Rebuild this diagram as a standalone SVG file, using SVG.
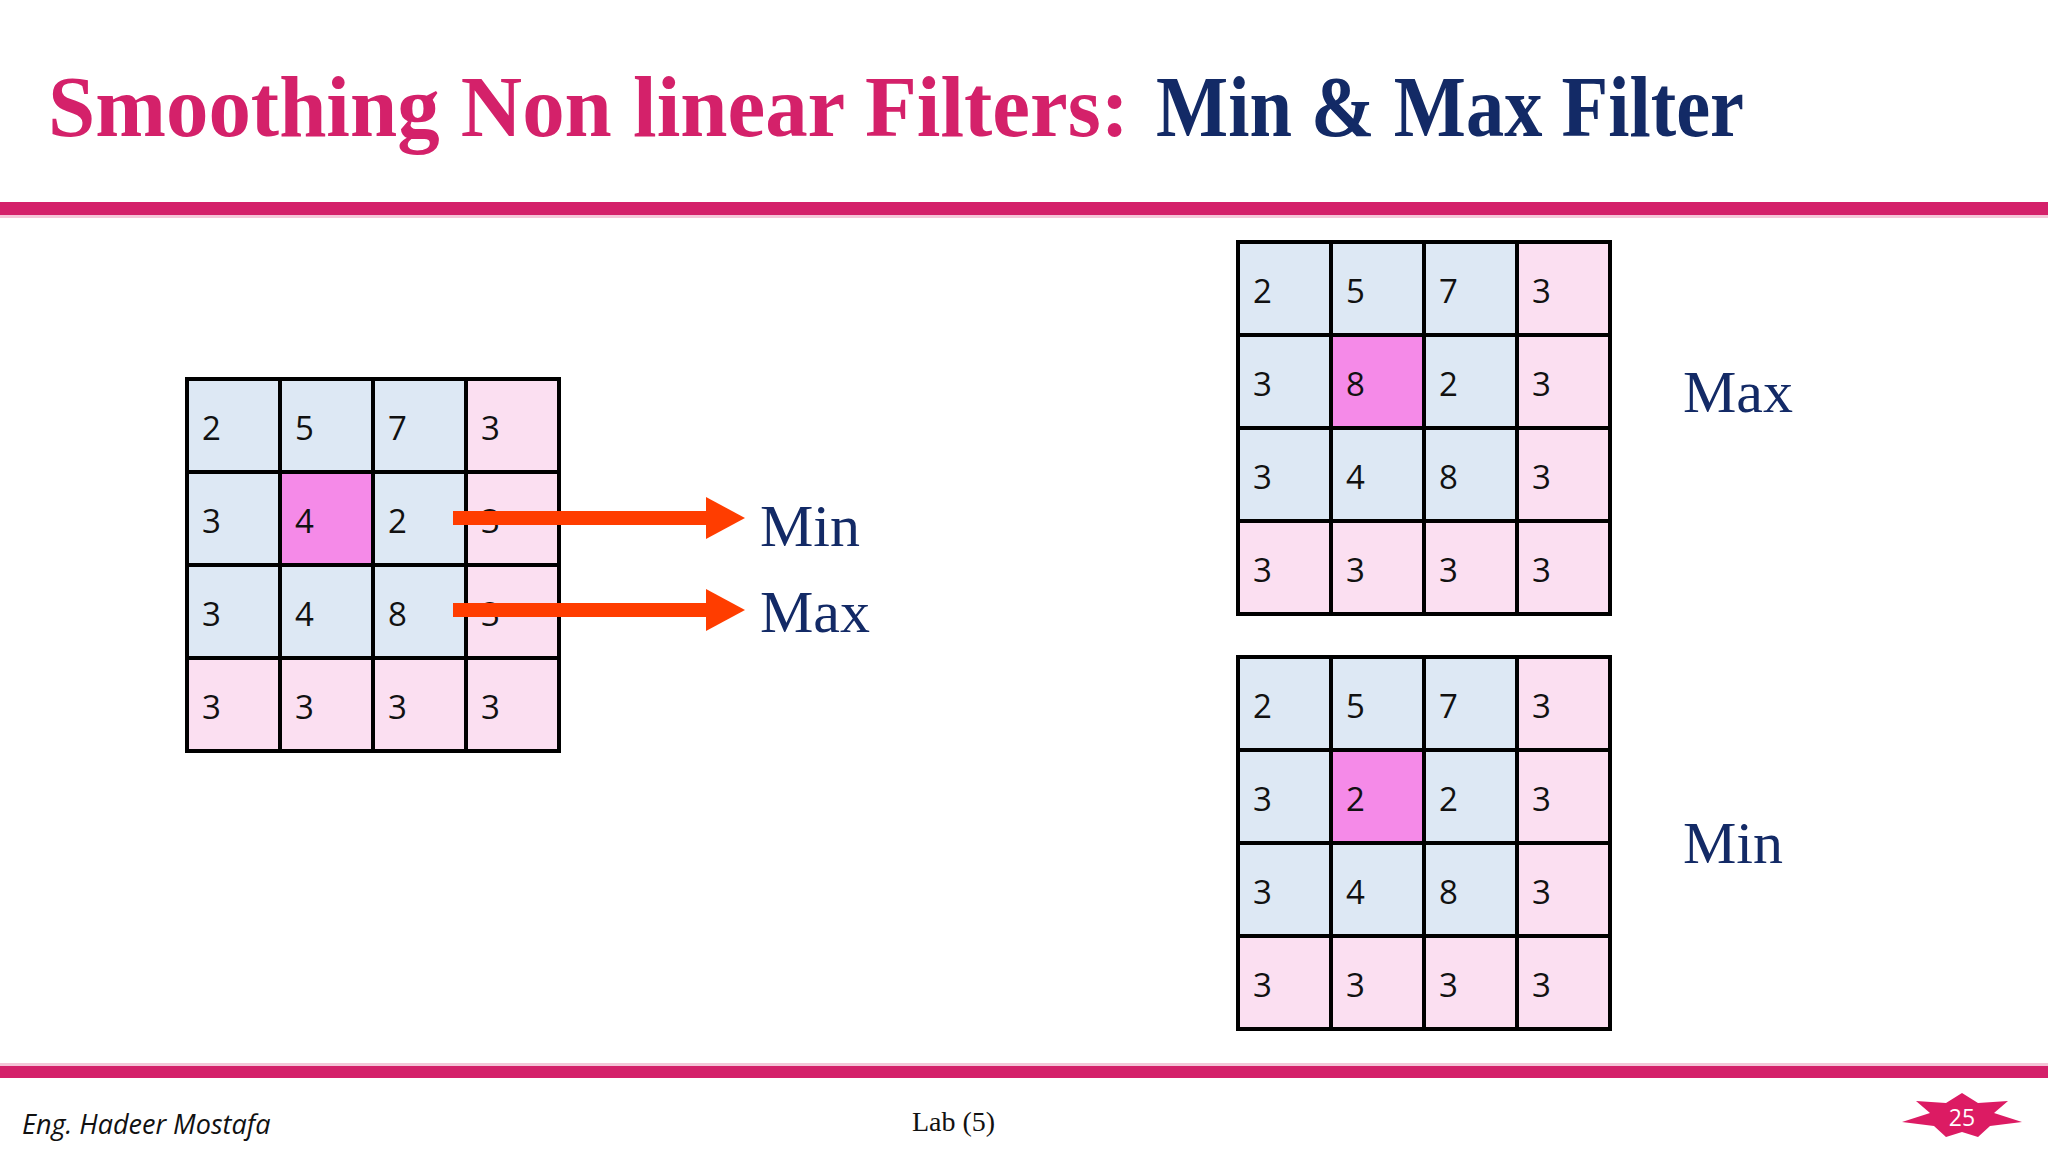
<svg xmlns="http://www.w3.org/2000/svg" width="2048" height="1152" viewBox="0 0 2048 1152">
<style>
.b{fill:#dde8f4;stroke:#000;stroke-width:4}
.p{fill:#fbdff1;stroke:#000;stroke-width:4}
.m{fill:#f58ae8;stroke:#000;stroke-width:4}
.n{font-family:"Open Sans",sans-serif;font-size:33px;fill:#111}
.lbl{font-family:"Liberation Serif",serif;fill:#132a66}
.t{font-family:"Liberation Serif",serif;font-weight:bold;font-size:86px}
</style>
<rect width="2048" height="1152" fill="#fff"/>
<text class="t" x="48" y="136" fill="#d4216a" textLength="1081" lengthAdjust="spacingAndGlyphs">Smoothing Non linear Filters:</text>
<text class="t" x="1156" y="136" fill="#132a66" textLength="588" lengthAdjust="spacingAndGlyphs">Min &amp; Max Filter</text>
<rect x="0" y="202" width="2048" height="13" fill="#d4216a"/>
<rect x="0" y="215" width="2048" height="3" fill="#f5c6d8"/>
<rect x="0" y="1066" width="2048" height="12" fill="#d4216a"/>
<rect x="0" y="1063" width="2048" height="3" fill="#f5c6d8"/>

<g id="gridA" transform="translate(187,379)">
<rect class="b" x="0" y="0" width="93" height="93"/><rect class="b" x="93" y="0" width="93" height="93"/><rect class="b" x="186" y="0" width="93" height="93"/><rect class="p" x="279" y="0" width="93" height="93"/>
<rect class="b" x="0" y="93" width="93" height="93"/><rect class="m" x="93" y="93" width="93" height="93"/><rect class="b" x="186" y="93" width="93" height="93"/><rect class="p" x="279" y="93" width="93" height="93"/>
<rect class="b" x="0" y="186" width="93" height="93"/><rect class="b" x="93" y="186" width="93" height="93"/><rect class="b" x="186" y="186" width="93" height="93"/><rect class="p" x="279" y="186" width="93" height="93"/>
<rect class="p" x="0" y="279" width="93" height="93"/><rect class="p" x="93" y="279" width="93" height="93"/><rect class="p" x="186" y="279" width="93" height="93"/><rect class="p" x="279" y="279" width="93" height="93"/>
<g class="n">
<text x="15" y="61">2</text><text x="108" y="61">5</text><text x="201" y="61">7</text><text x="294" y="61">3</text>
<text x="15" y="154">3</text><text x="108" y="154">4</text><text x="201" y="154">2</text><text x="294" y="154">3</text>
<text x="15" y="247">3</text><text x="108" y="247">4</text><text x="201" y="247">8</text><text x="294" y="247">3</text>
<text x="15" y="340">3</text><text x="108" y="340">3</text><text x="201" y="340">3</text><text x="294" y="340">3</text>
</g>
</g>

<g id="connectors" fill="#ff3d00">
<rect x="453" y="511" width="257" height="14"/><polygon points="706,497 745,518 706,539"/>
<rect x="453" y="603" width="257" height="14"/><polygon points="706,589 745,610 706,631"/>
</g>
<text class="lbl" x="760" y="546" font-size="60">Min</text>
<text class="lbl" x="760" y="632" font-size="60">Max</text>

<g id="gridMax" transform="translate(1238,242)">
<rect class="b" x="0" y="0" width="93" height="93"/><rect class="b" x="93" y="0" width="93" height="93"/><rect class="b" x="186" y="0" width="93" height="93"/><rect class="p" x="279" y="0" width="93" height="93"/>
<rect class="b" x="0" y="93" width="93" height="93"/><rect class="m" x="93" y="93" width="93" height="93"/><rect class="b" x="186" y="93" width="93" height="93"/><rect class="p" x="279" y="93" width="93" height="93"/>
<rect class="b" x="0" y="186" width="93" height="93"/><rect class="b" x="93" y="186" width="93" height="93"/><rect class="b" x="186" y="186" width="93" height="93"/><rect class="p" x="279" y="186" width="93" height="93"/>
<rect class="p" x="0" y="279" width="93" height="93"/><rect class="p" x="93" y="279" width="93" height="93"/><rect class="p" x="186" y="279" width="93" height="93"/><rect class="p" x="279" y="279" width="93" height="93"/>
<g class="n">
<text x="15" y="61">2</text><text x="108" y="61">5</text><text x="201" y="61">7</text><text x="294" y="61">3</text>
<text x="15" y="154">3</text><text x="108" y="154">8</text><text x="201" y="154">2</text><text x="294" y="154">3</text>
<text x="15" y="247">3</text><text x="108" y="247">4</text><text x="201" y="247">8</text><text x="294" y="247">3</text>
<text x="15" y="340">3</text><text x="108" y="340">3</text><text x="201" y="340">3</text><text x="294" y="340">3</text>
</g>
</g>
<text class="lbl" x="1683" y="412" font-size="60">Max</text>

<g id="gridMin" transform="translate(1238,657)">
<rect class="b" x="0" y="0" width="93" height="93"/><rect class="b" x="93" y="0" width="93" height="93"/><rect class="b" x="186" y="0" width="93" height="93"/><rect class="p" x="279" y="0" width="93" height="93"/>
<rect class="b" x="0" y="93" width="93" height="93"/><rect class="m" x="93" y="93" width="93" height="93"/><rect class="b" x="186" y="93" width="93" height="93"/><rect class="p" x="279" y="93" width="93" height="93"/>
<rect class="b" x="0" y="186" width="93" height="93"/><rect class="b" x="93" y="186" width="93" height="93"/><rect class="b" x="186" y="186" width="93" height="93"/><rect class="p" x="279" y="186" width="93" height="93"/>
<rect class="p" x="0" y="279" width="93" height="93"/><rect class="p" x="93" y="279" width="93" height="93"/><rect class="p" x="186" y="279" width="93" height="93"/><rect class="p" x="279" y="279" width="93" height="93"/>
<g class="n">
<text x="15" y="61">2</text><text x="108" y="61">5</text><text x="201" y="61">7</text><text x="294" y="61">3</text>
<text x="15" y="154">3</text><text x="108" y="154">2</text><text x="201" y="154">2</text><text x="294" y="154">3</text>
<text x="15" y="247">3</text><text x="108" y="247">4</text><text x="201" y="247">8</text><text x="294" y="247">3</text>
<text x="15" y="340">3</text><text x="108" y="340">3</text><text x="201" y="340">3</text><text x="294" y="340">3</text>
</g>
</g>
<text class="lbl" x="1683" y="863" font-size="60">Min</text>

<text x="22" y="1134" font-family="Open Sans,sans-serif" font-style="italic" font-size="27" fill="#111">Eng. Hadeer Mostafa</text>
<text x="912" y="1131" font-family="Liberation Serif,serif" font-size="28" fill="#111">Lab (5)</text>
<g id="badge">
<polygon fill="#dc1b63" points="1962,1093 1978,1103 2008,1101 1994,1113 2022,1122 1990,1126 1978,1137 1962,1132 1946,1137 1934,1126 1902,1122 1930,1113 1916,1101 1946,1103"/>
<text x="1962" y="1126" text-anchor="middle" font-family="Open Sans,sans-serif" font-size="23" fill="#fff">25</text>
</g>
</svg>
